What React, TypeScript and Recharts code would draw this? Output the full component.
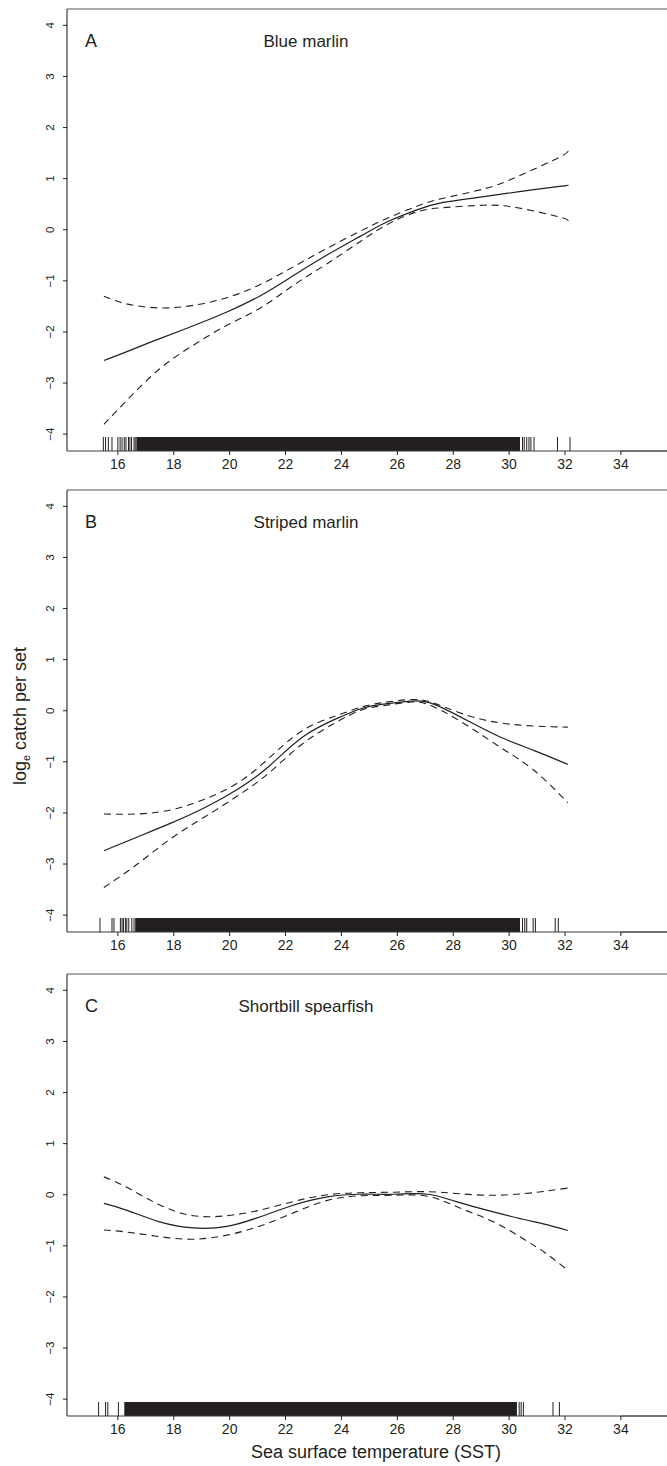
import React from "react";
import { LineChart, Line, XAxis, YAxis, ReferenceLine, ReferenceArea } from "recharts";

// ---- data ----
const xTicks = [16, 18, 20, 22, 24, 26, 28, 30, 32, 34];
const yTicks = [-4, -3, -2, -1, 0, 1, 2, 3, 4];
const panelLetters = ["A", "B", "C"];
const panelTitles = ["Blue marlin", "Striped marlin", "Shortbill spearfish"];
const xTitle = "Sea surface temperature (SST)";

const sstA = [15.5, 16.3, 17.5, 18.7, 19.9, 21.1, 22.3, 23.5, 24.7, 25.7, 26.7, 27.6, 29.1, 30.3, 31.8, 32.1];
const fitA = [-2.56, -2.39, -2.13, -1.88, -1.61, -1.29, -0.89, -0.49, -0.12, 0.17, 0.39, 0.53, 0.65, 0.74, 0.85, 0.87];
const upperA = [-1.3, -1.45, -1.53, -1.48, -1.33, -1.07, -0.72, -0.36, -0.02, 0.24, 0.46, 0.61, 0.8, 1.04, 1.42, 1.55];
const lowerA = [-3.81, -3.35, -2.72, -2.26, -1.87, -1.53, -1.08, -0.66, -0.22, 0.12, 0.35, 0.43, 0.48, 0.43, 0.25, 0.17];

const sstB = [15.5, 16.7, 17.9, 19.1, 20.3, 21.4, 22.6, 23.8, 24.7, 25.5, 26.5, 27.3, 28.5, 29.7, 30.9, 32.1];
const fitB = [-2.74, -2.47, -2.2, -1.9, -1.53, -1.09, -0.52, -0.16, 0.04, 0.13, 0.19, 0.13, -0.19, -0.52, -0.78, -1.05];
const upperB = [-2.02, -2.02, -1.94, -1.73, -1.41, -0.93, -0.39, -0.1, 0.07, 0.16, 0.22, 0.15, -0.09, -0.24, -0.3, -0.32];
const lowerB = [-3.46, -3.0, -2.5, -2.08, -1.66, -1.22, -0.65, -0.23, 0.01, 0.1, 0.17, 0.08, -0.29, -0.72, -1.17, -1.8];

const sstC = [15.5, 16.3, 17.5, 18.7, 19.9, 21.1, 22.3, 23.5, 24.7, 25.9, 27.1, 28.2, 29.4, 30.5, 31.3, 32.1];
const fitC = [-0.17, -0.3, -0.53, -0.65, -0.62, -0.43, -0.2, -0.04, 0.01, 0.01, 0.01, -0.15, -0.33, -0.48, -0.58, -0.7];
const upperC = [0.35, 0.15, -0.2, -0.41, -0.41, -0.3, -0.13, 0.0, 0.04, 0.05, 0.06, 0.02, -0.01, 0.02, 0.07, 0.13];
const lowerC = [-0.69, -0.73, -0.82, -0.87, -0.79, -0.61, -0.35, -0.11, -0.02, -0.01, -0.03, -0.25, -0.52, -0.86, -1.14, -1.48];

const rugA = [15.48, 15.56, 15.66, 15.79, 16.0, 16.08, 16.15, 16.23, 16.29, 16.38, 16.43, 16.49, 16.58, 16.62, 30.48, 30.54, 30.63, 30.71, 30.78, 30.89, 31.73, 32.18];
const denseA = [16.66, 30.39];
const rugB = [15.36, 15.79, 15.86, 16.09, 16.15, 16.2, 16.27, 16.32, 16.39, 16.5, 16.58, 30.48, 30.56, 30.63, 30.86, 30.94, 31.65, 31.76];
const denseB = [16.62, 30.39];
const rugC = [15.31, 15.56, 15.64, 16.02, 30.36, 30.43, 30.51, 31.57, 31.8];
const denseC = [16.23, 30.28];

// ---- layout constants ----
const X_MIN = 14.18;
const X_MAX = 35.9;
const Y_MIN = -4.33;
const Y_MAX = 4.32;
const RUG_TOP = -4.056;
const INK = "#231f20";
const FONT = "'Liberation Sans', Arial, sans-serif";

const build = (xs: number[], fit: number[], up: number[], lo: number[]) =>
  xs.map((x, i) => ({ sst: x, fit: fit[i], upper: up[i], lower: lo[i] }));

const panels = [
  { data: build(sstA, fitA, upperA, lowerA), rug: rugA, dense: denseA, top: 0 },
  { data: build(sstB, fitB, upperB, lowerB), rug: rugB, dense: denseB, top: 481 },
  { data: build(sstC, fitC, upperC, lowerC), rug: rugC, dense: denseC, top: 965 },
];

const fmt = (v: number) => (v < 0 ? "\u2212" + Math.abs(v) : String(v));

const YTick = (props: any) => {
  const { y, payload } = props;
  return (
    <text
      transform={`translate(54, ${y}) rotate(-90)`}
      textAnchor="middle"
      fontSize={11.5}
      fontFamily={FONT}
      fill={INK}
    >
      {fmt(payload.value)}
    </text>
  );
};

const XTick = (props: any) => {
  const { x, y, payload } = props;
  return (
    <text x={x} y={y + 10} textAnchor="middle" fontSize={14} fontFamily={FONT} fill={INK}>
      {payload.value}
    </text>
  );
};

function Panel({ p }: { p: (typeof panels)[number] }) {
  return (
    <div style={{ position: "absolute", left: 0, top: p.top }}>
      <LineChart width={680} height={481} data={p.data} margin={{ top: 9, right: 6, left: 0, bottom: 0 }}>
        <XAxis
          dataKey="sst"
          type="number"
          domain={[X_MIN, X_MAX]}
          ticks={xTicks}
          allowDataOverflow
          height={30}
          tickSize={4}
          tickMargin={4}
          axisLine={{ stroke: "#3a3a3a", strokeWidth: 1.2 }}
          tickLine={{ stroke: INK }}
          tick={<XTick />}
          interval={0}
        />
        <YAxis
          type="number"
          domain={[Y_MIN, Y_MAX]}
          ticks={yTicks}
          allowDataOverflow
          width={67}
          tickSize={4}
          tickMargin={4}
          axisLine={{ stroke: "#3a3a3a", strokeWidth: 1.2 }}
          tickLine={{ stroke: INK }}
          tick={<YTick />}
          interval={0}
        />
        <ReferenceLine y={Y_MAX} stroke="#8f8f8f" strokeWidth={1.3} ifOverflow="visible" />
        <ReferenceLine
          segment={[
            { x: 34, y: Y_MIN },
            { x: X_MAX, y: Y_MIN },
          ]}
          stroke="#8f8f8f"
          strokeWidth={1.3}
          ifOverflow="visible"
        />
        <ReferenceArea
          x1={p.dense[0]}
          x2={p.dense[1]}
          y1={Y_MIN}
          y2={RUG_TOP}
          fill={INK}
          fillOpacity={1}
          stroke="none"
          ifOverflow="visible"
        />
        {p.rug.map((v, i) => (
          <ReferenceLine
            key={i}
            segment={[
              { x: v, y: Y_MIN },
              { x: v, y: RUG_TOP },
            ]}
            stroke={INK}
            strokeWidth={1}
            ifOverflow="visible"
          />
        ))}
        <Line dataKey="upper" type="natural" stroke={INK} strokeWidth={1.1} strokeDasharray="7 5" dot={false} isAnimationActive={false} />
        <Line dataKey="lower" type="natural" stroke={INK} strokeWidth={1.1} strokeDasharray="7 5" dot={false} isAnimationActive={false} />
        <Line dataKey="fit" type="natural" stroke={INK} strokeWidth={1.2} dot={false} isAnimationActive={false} />
      </LineChart>
    </div>
  );
}

export default function App() {
  const titleBaselines = [47, 528, 1012];
  return (
    <div style={{ position: "absolute", left: 0, top: 0, width: 667, height: 1466, overflow: "hidden", background: "#fff" }}>
      {panels.map((p, i) => (
        <Panel key={i} p={p} />
      ))}
      <svg width={667} height={1466} style={{ position: "absolute", left: 0, top: 0, pointerEvents: "none" }}>
        {panelLetters.map((l, i) => (
          <text key={"l" + i} x={85} y={titleBaselines[i]} fontSize={18} fontFamily={FONT} fill={INK}>
            {l}
          </text>
        ))}
        {panelTitles.map((t, i) => (
          <text key={"t" + i} x={306} y={titleBaselines[i]} textAnchor="middle" fontSize={17} fontFamily={FONT} fill={INK}>
            {t}
          </text>
        ))}
        <text x={376} y={1458} textAnchor="middle" fontSize={18} fontFamily={FONT} fill={INK}>
          {xTitle}
        </text>
        <text transform="translate(26, 716) rotate(-90)" textAnchor="middle" fontSize={18} fontFamily={FONT} fill={INK}>
          <tspan>log</tspan>
          <tspan fontSize={11} dy={4}>e</tspan>
          <tspan dy={-4}> catch per set</tspan>
        </text>
      </svg>
    </div>
  );
}
